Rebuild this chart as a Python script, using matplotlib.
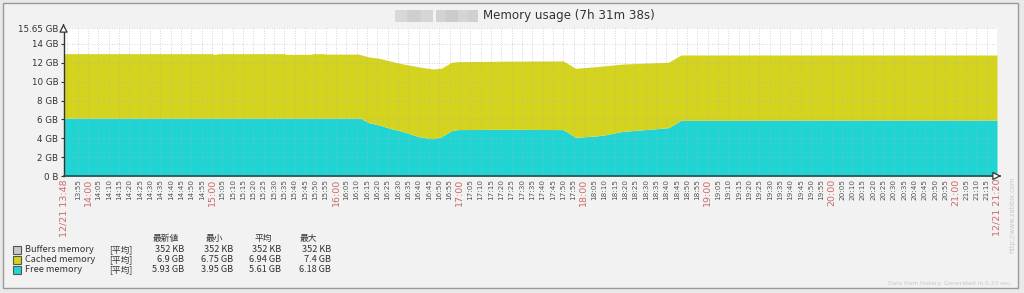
import matplotlib
matplotlib.use("Agg")
import matplotlib.pyplot as plt
from matplotlib.patches import Rectangle
from matplotlib.transforms import blended_transform_factory
import numpy as np

# ---------------- data ----------------
times = ["13:48", "15:00", "15:01", "15:02", "15:03", "15:35", "15:36", "15:48", "15:49",
         "15:54", "15:55", "16:11", "16:12", "16:16", "16:21", "16:26", "16:31", "16:35",
         "16:40", "16:45", "16:47", "16:51", "16:56", "16:59", "17:24", "17:50", "17:56",
         "18:06", "18:10", "18:18", "18:20", "18:41", "18:47", "21:20"]
free_gb = [6.15, 6.15, 6.15, 6.15, 6.15, 6.15, 6.15, 6.15, 6.15,
           6.15, 6.15, 6.15, 6.10, 5.65, 5.41, 5.06, 4.80, 4.53,
           4.17, 4.00, 3.95, 4.17, 4.80, 4.92, 4.95, 4.92, 4.10,
           4.25, 4.35, 4.70, 4.75, 5.12, 5.90, 5.93]
cached_gb = [6.82, 6.82, 6.75, 6.75, 6.82, 6.82, 6.75, 6.75, 6.82,
             6.82, 6.77, 6.77, 6.75, 6.97, 7.07, 7.14, 7.15, 7.24,
             7.40, 7.40, 7.40, 7.25, 7.26, 7.20, 7.23, 7.28, 7.32,
             7.34, 7.33, 7.15, 7.13, 6.94, 6.93, 6.90]
buffers_kb = 352

y_ticks = [0, 2, 4, 6, 8, 10, 12, 14, 15.65]
y_labels = ["0 B", "2 GB", "4 GB", "6 GB", "8 GB", "10 GB", "12 GB", "14 GB", "15.65 GB"]

title = "Memory usage (7h 31m 38s)"
legend_names = ["Buffers memory", "Cached memory", "Free memory"]
legend_func = "[平均]"
legend_headers = ["最新値", "最小", "平均", "最大"]
legend_values = [["352 KB", "352 KB", "352 KB", "352 KB"],
                 ["6.9 GB", "6.75 GB", "6.94 GB", "7.4 GB"],
                 ["5.93 GB", "3.95 GB", "5.61 GB", "6.18 GB"]]
colors = ["#c8c8c8", "#d4d41e", "#20d4d4"]

start_min = 13 * 60 + 48 + 22 / 60.0
end_min = 21 * 60 + 20

# ---------------- figure ----------------
W, H = 1024, 293
fig = plt.figure(figsize=(W / 100, H / 100), dpi=100)
fig.patch.set_facecolor("#e9e9e9")

def fx(x):
    return x / W

def fy(y):
    return 1 - y / H

fig.patches.append(Rectangle((fx(3), fy(288)), fx(1018) - fx(3), fy(3) - fy(288),
                             transform=fig.transFigure, facecolor="#f2f2f2",
                             edgecolor="#9a9a9a", lw=1.0, zorder=-5))

ax = fig.add_axes([fx(64), fy(176), fx(997) - fx(64), fy(28.4) - fy(176)])
ax.set_facecolor("white")
ax.set_zorder(1)

def to_min(s):
    h, m = s.split(":")
    return int(h) * 60 + int(m)

t = np.array([to_min(s) for s in times], dtype=float)
t[0] = start_min
free = np.array(free_gb)
cached = np.array(cached_gb)
buf = buffers_kb / 1024.0 / 1024.0

ax.fill_between(t, 0, free, color=colors[2], lw=0, zorder=1)
ax.fill_between(t, free, free + cached, color=colors[1], lw=0, zorder=1)
ax.fill_between(t, free + cached, free + cached + buf, color=colors[0], lw=0, zorder=1)

ax.set_xlim(start_min, end_min)
ax.set_ylim(0, 15.65)

# grid
grid_x = np.arange(13 * 60 + 50, end_min + 1, 5)
for gx in grid_x:
    ax.axvline(gx, color="#b0b0b0", lw=0.6, ls=(0, (1, 2)), zorder=2, alpha=0.7)
for gy in y_ticks[1:]:
    ax.axhline(gy, color="#b0b0b0", lw=0.6, ls=(0, (1, 2)), zorder=2, alpha=0.7)

for s in ["top", "right"]:
    ax.spines[s].set_visible(False)
ax.spines["left"].set_color("#333333")
ax.spines["bottom"].set_color("#2a4a4a")
ax.spines["left"].set_linewidth(1.0)
ax.spines["bottom"].set_linewidth(1.2)
ax.set_xticks([])
ax.set_yticks(y_ticks)
ax.set_yticklabels(y_labels, fontsize=6.3, color="#333333")
ax.tick_params(axis="y", length=2, width=0.8, pad=2, color="#333333")

# axis arrows
arrow_kw = dict(arrowstyle="-|>,head_length=0.5,head_width=0.25", color="#333333",
                lw=0.9, fc="white")
fig.add_artist(matplotlib.patches.FancyArrowPatch((fx(997), fy(176)), (fx(1004), fy(176)),
                                                  transform=fig.transFigure, zorder=5,
                                                  mutation_scale=10, **arrow_kw))
fig.add_artist(matplotlib.patches.FancyArrowPatch((fx(63.5), fy(28.5)), (fx(63.5), fy(21)),
                                                  transform=fig.transFigure, zorder=5,
                                                  mutation_scale=10, **arrow_kw))

# x tick labels
trans = blended_transform_factory(ax.transData, fig.transFigure)
red = "#cc6a6a"
for m in range(13 * 60 + 55, end_min, 5):
    hh, mm = divmod(m, 60)
    lab = f"{hh:02d}:{mm:02d}"
    if mm == 0:
        ax.text(m, fy(179), lab, rotation=90, ha="center", va="top", fontsize=6.8,
                color=red, transform=trans, clip_on=False)
    else:
        ax.text(m, fy(179), lab, rotation=90, ha="center", va="top", fontsize=5.2,
                color="#555555", transform=trans, clip_on=False)
ax.text(start_min, fy(179), "12/21 13:48", rotation=90, ha="center", va="top", fontsize=6.8,
        color=red, transform=trans, clip_on=False)
ax.text(end_min, fy(179), "12/21 21:20", rotation=90, ha="center", va="top", fontsize=6.8,
        color=red, transform=trans, clip_on=False)

# title with blurred host name placeholder
fig.text(fx(483), fy(16), title, fontsize=8.6, color="#333333", ha="left", va="center")
for (bx, bw, c) in [(395, 12, "#d8d8d8"), (407, 14, "#cfcfcf"), (421, 12, "#d6d6d6"),
                    (436, 10, "#d2d2d2"), (446, 12, "#cbcbcb"), (458, 10, "#d5d5d5"),
                    (468, 10, "#d0d0d0")]:
    fig.patches.append(Rectangle((fx(bx), fy(22)), fx(bw), fy(10) - fy(22),
                                 transform=fig.transFigure, facecolor=c, edgecolor="none"))

# legend
FP = ["Noto Sans CJK JP", "DejaVu Sans"]
col_right = [184, 233, 281, 331]
col_head = [166, 214, 263, 308]
for i, h in enumerate(legend_headers):
    fig.text(fx(col_head[i]), fy(238.5), h, fontsize=6.3, color="#333333", ha="center",
             va="center", family=FP)
rows_y = [249.5, 259.7, 270]
for r, (name, vals) in enumerate(zip(legend_names, legend_values)):
    y = rows_y[r]
    fig.patches.append(Rectangle((fx(13), fy(y + 4)), fx(8), fy(y - 4) - fy(y + 4),
                                 transform=fig.transFigure, facecolor=colors[r],
                                 edgecolor="#555555", lw=0.8))
    fig.text(fx(25), fy(y), name, fontsize=6.6, color="#333333", ha="left", va="center",
             family=FP)
    fig.text(fx(109), fy(y), legend_func, fontsize=6.3, color="#333333", ha="left",
             va="center", family=FP)
    for c, v in enumerate(vals):
        fig.text(fx(col_right[c]), fy(y), v, fontsize=6.6, color="#333333", ha="right",
                 va="center", family=FP)

# footer texts
fig.text(fx(1012), fy(215), "http://www.zabbix.com", rotation=90, fontsize=4.8,
         color="#c8c8c8", ha="center", va="center")
fig.text(fx(1012), fy(283), "Data from history. Generated in 0.23 sec.", fontsize=4.3,
         color="#c8c8c8", ha="right", va="center")

fig.savefig("out.png", dpi=100, facecolor=fig.get_facecolor())
